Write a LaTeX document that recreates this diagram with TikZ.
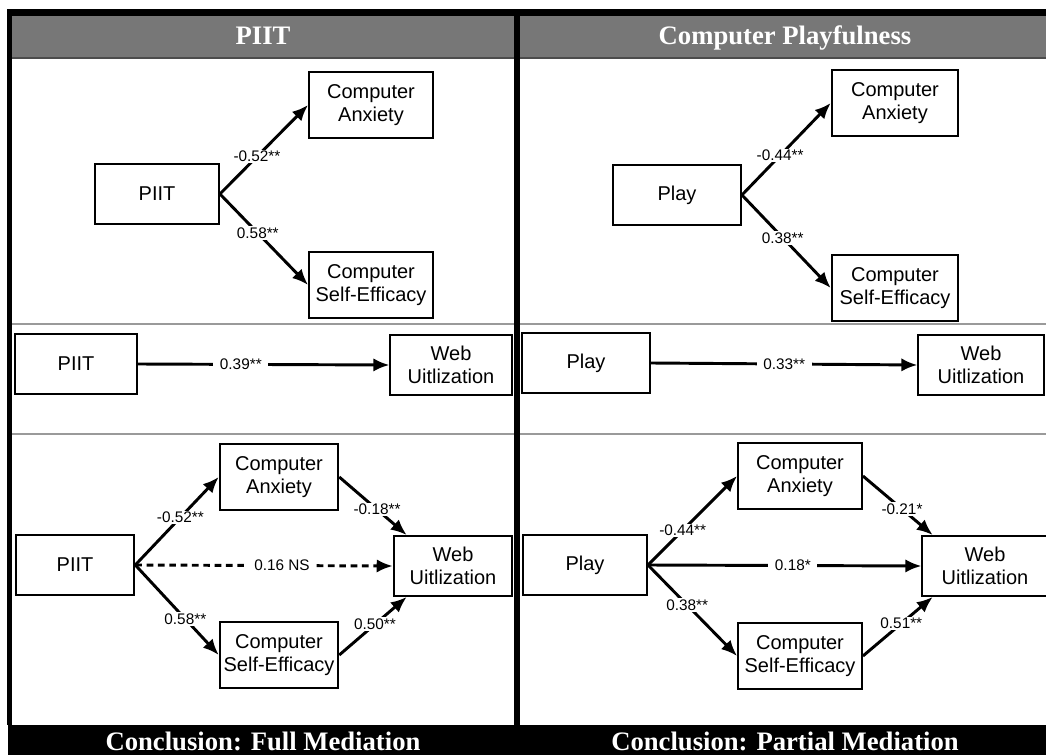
\documentclass[tikz,border=0pt]{standalone}
\usepackage{fontspec}
\setmainfont{Liberation Serif}
\setsansfont{Liberation Sans}
\usepackage{xcolor}
\usetikzlibrary{arrows.meta,positioning,calc}
\definecolor{headgray}{HTML}{777777}
\definecolor{rulegray}{HTML}{9A9A9A}
\tikzset{
  box/.style = {draw, line width=1.4pt, minimum width=93pt, minimum height=45pt,
    align=center, inner sep=2pt, font=\sffamily\fontsize{15}{17.25}\selectfont},
  tallbox/.style = {box, minimum height=50pt},
  link/.style = {->, line width=2.2pt},
  dashlink/.style = {link, dash pattern=on 5pt off 3.5pt},
  coef/.style = {fill=white, inner xsep=5pt, inner ysep=1pt,
    font=\sffamily\fontsize{11.5}{13}\selectfont},
  panelhead/.style = {text=white, anchor=base, font=\bfseries\fontsize{20}{24}\selectfont}
}

\begin{document}
\begin{tikzpicture}[x = .75pt, y = -.75pt, >={Latex[length=12pt,width=10pt]}]
  \useasboundingbox (0,0) rectangle (1046,755);
  % frame and panels
  \fill[headgray] (12,16) rectangle (1046,58);
  \draw[line width=.8pt, black!70] (12,58) -- (1046,58);
  \draw[line width=.9pt, rulegray] (12,324) -- (1046,324);
  \draw[line width=.9pt, rulegray] (12,434) -- (1046,434);
  \fill[black] (7,9) rectangle (1046,16);
  \fill[black] (7,9) rectangle (12,725);
  \fill[black] (514,9) rectangle (520,755);
  \fill[black] (8,725) rectangle (1046,755);
  \node[panelhead] (leftHead) at (263,45) {PIIT};
  \node[panelhead] (rightHead) at (785,45) {Computer Playfulness};
  \node[panelhead] (leftFoot) at (263,750) {Conclusion: Full Mediation};
  \node[panelhead] (rightFoot) at (785,750) {Conclusion: Partial Mediation};

  % PIIT: a path
  \node[box] (piitA) at (157,194) {PIIT};
  \node[tallbox] (anxA) at (371,105) {Computer\\Anxiety};
  \node[tallbox] (effA) at (371,285) {Computer\\Self-Efficacy};
  \draw[link] (piitA.east) -- node[coef, pos=.42] {-0.52**} (anxA.west);
  \draw[link] (piitA.east) -- node[coef, pos=.43] {0.58**} (effA.west);

  % Play: a path
  \node[box, minimum width=96pt] (playA) at (677,195) {Play};
  \node[tallbox, minimum width=95pt] (anxB) at (895,103) {Computer\\Anxiety};
  \node[tallbox, minimum width=95pt] (effB) at (895,288) {Computer\\Self-Efficacy};
  \draw[link] (playA.east) -- node[coef, pos=.43] {-0.44**} (anxB.west);
  \draw[link] (playA.east) -- node[coef, pos=.46] {0.38**} (effB.west);

  % direct effects
  \node[box, minimum width=91pt] (piitB) at (76,364) {PIIT};
  \node[box, minimum width=91pt] (webA) at (451,365) {Web\\Uitlization};
  \draw[link] (piitB.east) -- node[coef, pos=.41] {0.39**} (webA.west);
  \node[box, minimum width=96pt] (playB) at (586,363) {Play};
  \node[box, minimum width=94pt] (webB) at (981,365) {Web\\Uitlization};
  \draw[link] (playB.east) -- node[coef, pos=.5] {0.33**} (webB.west);

  % PIIT: mediation
  \node[box, minimum width=89pt] (piitC) at (75,565) {PIIT};
  \node[tallbox, minimum width=89pt] (anxC) at (279,477) {Computer\\Anxiety};
  \node[tallbox, minimum width=89pt] (effC) at (279,655) {Computer\\Self-Efficacy};
  \node[box, minimum width=89pt] (webC) at (453,566) {Web\\Uitlization};
  \draw[link] (piitC.east) -- node[coef, pos=.54] {-0.52**} (anxC.west);
  \draw[link] (piitC.east) -- node[coef, pos=.6] {0.58**} (effC.west);
  \draw[link] (anxC.east) -- node[coef, pos=.56] {-0.18**} ([xshift=10.5pt]webC.north west);
  \draw[link] (effC.east) -- node[coef, pos=.53] {0.50**} ([xshift=10.5pt]webC.south west);
  \draw[dashlink] (piitC.east) -- node[coef, pos=.57] {0.16 NS} (webC.west);

  % Play: mediation
  \node[box] (playC) at (585,565) {Play};
  \node[tallbox] (anxD) at (800,476) {Computer\\Anxiety};
  \node[tallbox] (effD) at (800,656) {Computer\\Self-Efficacy};
  \node[box, minimum width=94pt] (webD) at (985,566) {Web\\Uitlization};
  \draw[link] (playC.east) -- node[coef, pos=.39] {-0.44**} (anxD.west);
  \draw[link] (playC.east) -- node[coef, pos=.44] {0.38**} (effD.west);
  \draw[link] (anxD.east) -- node[coef, pos=.56] {-0.21*} ([xshift=8.5pt]webD.north west);
  \draw[link] (effD.east) -- node[coef, pos=.55] {0.51**} ([xshift=8.5pt]webD.south west);
  \draw[link] (playC.east) -- node[coef, pos=.53] {0.18*} (webD.west);
\end{tikzpicture}
\end{document}
